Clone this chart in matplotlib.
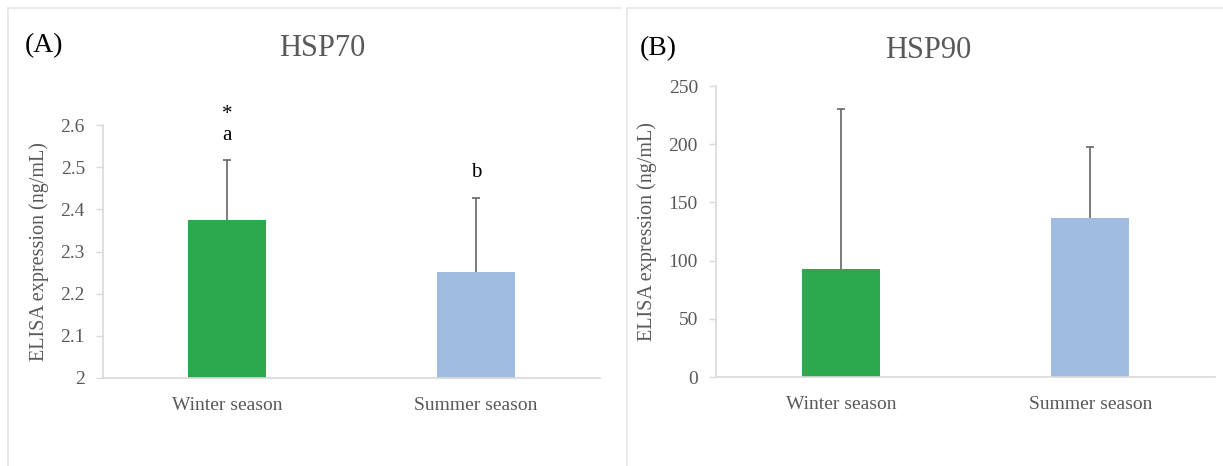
import matplotlib.pyplot as plt
from matplotlib.lines import Line2D

# Data
seasons = ["Winter season", "Summer season"]
hsp70_mean = [2.375, 2.252]
hsp70_err = [0.141, 0.176]
hsp70_letters = ["*\na", "b"]
hsp90_mean = [93, 137]
hsp90_err = [137, 61]

bar_colors = ["#2ca84e", "#a0bce0"]
text_color = "#595959"
spine_color = "#d9d9d9"

plt.rcParams['font.family'] = ['Liberation Serif', 'DejaVu Serif']

fig = plt.figure(figsize=(12.23, 4.66), dpi=100)
W, H = 1223, 466


def px_axes(left, top, right, bottom):
    return fig.add_axes([left / W, 1 - bottom / H, (right - left) / W, (bottom - top) / H])


def style_axis(ax):
    for side in ["top", "right"]:
        ax.spines[side].set_visible(False)
    for side in ["left", "bottom"]:
        ax.spines[side].set_color(spine_color)
        ax.spines[side].set_linewidth(1.2)
    ax.tick_params(axis='y', colors=text_color, labelsize=14, length=5, width=1, color=spine_color, pad=8)
    ax.tick_params(axis='x', colors=text_color, labelsize=14, length=0, pad=14)
    ax.set_xlim(-0.5, 1.5)
    ax.set_xticks(range(len(seasons)))
    ax.set_xticklabels(seasons)
    ax.set_ylabel("ELISA expression (ng/mL)", fontsize=14.5, color=text_color, labelpad=8)


def upper_errors(ax, means, errs):
    # only the upper whisker with a cap on top, like Excel's "plus" error bars
    eb = ax.errorbar(range(len(means)), means, yerr=[[0] * len(errs), errs], fmt='none',
                     ecolor="#666666", elinewidth=1.2, capsize=3, capthick=1.2)
    eb[1][0].set_visible(False)


# Panel borders
for seg in [((8, 8), (620, 8)), ((8, 8), (8, 466)), ((627, 8), (1223, 8)), ((627, 8), (627, 466))]:
    (x0, y0), (x1, y1) = seg
    fig.add_artist(Line2D([x0 / W, x1 / W], [1 - y0 / H, 1 - y1 / H], color="#e6e6e6", lw=1.2))

# Panel A
ax1 = px_axes(103, 125, 600, 378)
ax1.bar(range(len(seasons)), [m - 2 for m in hsp70_mean], bottom=2, width=0.314, color=bar_colors)
upper_errors(ax1, hsp70_mean, hsp70_err)
ax1.set_ylim(2, 2.6)
ax1.set_yticks([2, 2.1, 2.2, 2.3, 2.4, 2.5, 2.6])
ax1.set_yticklabels(["2", "2.1", "2.2", "2.3", "2.4", "2.5", "2.6"])
style_axis(ax1)
for i, lab in enumerate(hsp70_letters):
    ax1.text(i, hsp70_mean[i] + hsp70_err[i] + 0.037, lab, ha='center', va='bottom',
             fontsize=15, color="black", linespacing=1.1, clip_on=False)
fig.text(25 / W, 1 - 46 / H, "(A)", fontsize=20, ha='left', va='center', color="black")
fig.text(322 / W, 1 - 48 / H, "HSP70", fontsize=22, ha='center', va='center', color=text_color)

# Panel B
ax2 = px_axes(716, 86, 1215, 377)
ax2.bar(range(len(seasons)), hsp90_mean, width=0.314, color=bar_colors)
upper_errors(ax2, hsp90_mean, hsp90_err)
ax2.set_ylim(0, 250)
ax2.set_yticks([0, 50, 100, 150, 200, 250])
style_axis(ax2)
fig.text(640 / W, 1 - 49 / H, "(B)", fontsize=20, ha='left', va='center', color="black")
fig.text(928 / W, 1 - 50 / H, "HSP90", fontsize=22, ha='center', va='center', color=text_color)

fig.savefig("out.png", dpi=100)
